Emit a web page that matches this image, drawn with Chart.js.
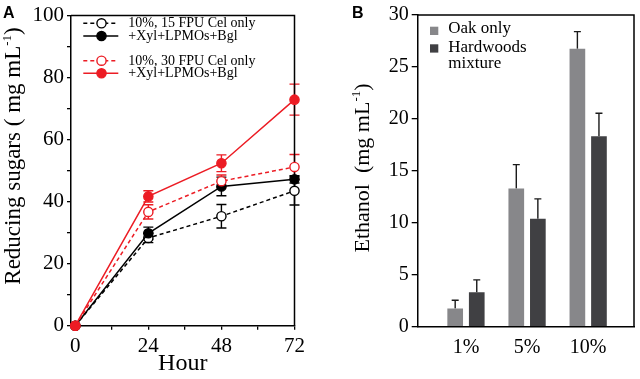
<!DOCTYPE html>
<html>
<head>
<meta charset="utf-8">
<script src="https://cdn.jsdelivr.net/npm/chart.js@4"></script>
<style>
html, body { margin: 0; padding: 0; background: #fff; }
#wrap { position: relative; width: 640px; height: 379px; }
#chartA { position: absolute; left: 0; top: 0; }
#chartB { position: absolute; left: 330px; top: 0; }
</style>
</head>
<body>
<div id="wrap">
  <canvas id="chartA" width="330" height="379"></canvas>
  <canvas id="chartB" width="310" height="379"></canvas>
</div>
<script>
// panel A - reducing sugars over time
const hours = [0, 24, 48, 72];
const cel15 = [0, 28.3, 35.3, 43.5];
const cel15Err = [0, 1.5, 3.8, 4.6];
const mix15 = [0, 29.8, 44.9, 47.2];
const mix15Err = [0, 2.0, 3.0, 1.2];
const cel30 = [0, 36.7, 46.6, 51.2];
const cel30Err = [0, 2.3, 2.0, 4.0];
const mix30 = [0, 41.7, 52.4, 72.9];
const mix30Err = [0, 1.8, 2.7, 5.0];

// panel B - ethanol
const loadings = ['1%', '5%', '10%'];
const oak = [1.74, 13.3, 26.75];
const oakErr = [0.8, 2.3, 1.65];
const hardwoods = [3.31, 10.4, 18.34];
const hardwoodsErr = [1.2, 1.9, 2.2];

const SERIF = '"Liberation Serif", "Times New Roman", serif';
const RED = '#ec1c24';

const errorBars = {
    id: 'errorBars',
    beforeDatasetsDraw(chart, args, opts) {
        const ctx = chart.ctx;
        const y = chart.scales.y;
        ctx.save();
        chart.data.datasets.forEach((ds, i) => {
            const meta = chart.getDatasetMeta(i);
            meta.data.forEach((el, j) => {
                const err = ds.errors[j];
                if (!err) return;
                const v = ds.data[j].y;
                const top = y.getPixelForValue(v + err);
                const bot = opts.upOnly ? el.y : y.getPixelForValue(v - err);
                ctx.strokeStyle = ds.errorColor;
                ctx.lineWidth = 1.4;
                ctx.setLineDash([]);
                ctx.beginPath();
                ctx.moveTo(el.x, top);
                ctx.lineTo(el.x, bot);
                ctx.moveTo(el.x - opts.cap, top);
                ctx.lineTo(el.x + opts.cap, top);
                if (!opts.upOnly) {
                    ctx.moveTo(el.x - opts.cap, bot);
                    ctx.lineTo(el.x + opts.cap, bot);
                }
                ctx.stroke();
            });
        });
        ctx.restore();
    }
};

// top and right side of the box
const frame = {
    id: 'frame',
    beforeDatasetsDraw(chart) {
        const { ctx, chartArea: a } = chart;
        ctx.save();
        ctx.strokeStyle = '#000';
        ctx.lineWidth = 1.5;
        ctx.beginPath();
        ctx.moveTo(a.left, a.top);
        ctx.lineTo(a.right, a.top);
        ctx.lineTo(a.right, a.bottom);
        ctx.stroke();
        ctx.restore();
    }
};

function drawRotTitle(ctx, cx, cy, size, main, sup, tail) {
    ctx.save();
    ctx.translate(cx, cy);
    ctx.rotate(-Math.PI / 2);
    ctx.fillStyle = '#000';
    ctx.textBaseline = 'alphabetic';
    const big = size + 'px ' + SERIF;
    const small = Math.round(size * 0.58) + 'px ' + SERIF;
    ctx.font = big;
    const w1 = ctx.measureText(main).width;
    const w3 = ctx.measureText(tail).width;
    ctx.font = small;
    const w2 = ctx.measureText(sup).width;
    let x = -(w1 + w2 + w3) / 2;
    const base = size * 0.25;
    ctx.font = big;
    ctx.fillText(main, x, base);
    x += w1;
    ctx.font = small;
    ctx.fillText(sup, x, base - size * 0.4);
    x += w2;
    ctx.font = big;
    ctx.fillText(tail, x, base);
    ctx.restore();
}

const decorations = {
    id: 'decorations',
    afterDraw(chart, args, opts) {
        const ctx = chart.ctx;
        drawRotTitle(ctx, opts.titleX, opts.titleY, opts.titleSize, opts.title, '-1', ')');
        ctx.save();
        ctx.fillStyle = '#000';
        ctx.font = 'bold 16px "Liberation Sans", Arial, sans-serif';
        ctx.textBaseline = 'alphabetic';
        ctx.fillText(opts.panel, opts.panelX, 18);
        ctx.restore();
    }
};

const legendA = {
    id: 'legendA',
    afterDraw(chart) {
        const ctx = chart.ctx;
        const rows = [23.3, 36, 60.7, 73.3];
        chart.data.datasets.forEach((ds, i) => {
            const y = rows[i];
            ctx.save();
            ctx.strokeStyle = ds.borderColor;
            ctx.lineWidth = ds.borderWidth;
            ctx.setLineDash(ds.borderDash);
            ctx.beginPath();
            ctx.moveTo(83.3, y);
            ctx.lineTo(118.3, y);
            ctx.stroke();
            ctx.setLineDash([]);
            ctx.fillStyle = ds.pointBackgroundColor;
            ctx.lineWidth = ds.pointBorderWidth;
            ctx.beginPath();
            ctx.arc(101.5, y, ds.pointRadius, 0, Math.PI * 2);
            ctx.fill();
            ctx.stroke();
            ctx.fillStyle = '#000';
            ctx.font = '14px ' + SERIF;
            ctx.textBaseline = 'middle';
            ctx.fillText(ds.label, 128.3, y + 0.5);
            ctx.restore();
        });
    }
};

const legendB = {
    id: 'legendB',
    afterDraw(chart) {
        const ctx = chart.ctx;
        const boxes = [26.7, 44.3];
        const baselines = [[33], [51.7, 68.3]];
        chart.data.datasets.forEach((ds, i) => {
            ctx.save();
            ctx.fillStyle = ds.backgroundColor;
            ctx.fillRect(100, boxes[i], 8.3, 8.3);
            ctx.fillStyle = '#000';
            ctx.font = '17px ' + SERIF;
            ctx.textBaseline = 'alphabetic';
            ds.legendLines.forEach((t, k) => ctx.fillText(t, 118.3, baselines[i][k]));
            ctx.restore();
        });
    }
};

function lineSet(label, values, errors, color, open, order) {
    return {
        label: label,
        order: order,
        data: hours.map((h, i) => ({ x: h, y: values[i] })),
        errors: errors,
        errorColor: color,
        borderColor: color,
        borderWidth: 1.5,
        borderDash: open ? [4, 3] : [],
        pointRadius: 4.6,
        pointBorderWidth: 1.4,
        pointBackgroundColor: open ? '#fff' : color,
        pointBorderColor: color,
        tension: 0,
        fill: false,
        clip: false
    };
}

new Chart(document.getElementById('chartA'), {
    type: 'line',
    data: {
        datasets: [
            lineSet('10%, 15 FPU Cel only', cel15, cel15Err, '#000', true, 4),
            lineSet('+Xyl+LPMOs+Bgl', mix15, mix15Err, '#000', false, 3),
            lineSet('10%, 30 FPU Cel only', cel30, cel30Err, RED, true, 2),
            lineSet('+Xyl+LPMOs+Bgl', mix30, mix30Err, RED, false, 1)
        ]
    },
    options: {
        responsive: false,
        animation: false,
        layout: { padding: { top: 8.5, right: 35.5, left: 0, bottom: 0 } },
        plugins: {
            legend: { display: false },
            tooltip: { enabled: false },
            errorBars: { cap: 5, upOnly: false },
            decorations: {
                title: 'Reducing sugars ( mg mL', titleX: 14, titleY: 156, titleSize: 23,
                panel: 'A', panelX: 3
            }
        },
        scales: {
            x: {
                type: 'linear', min: -1.4, max: 72,
                afterFit: s => { s.height = 53.3; },
                grid: { drawOnChartArea: false, drawTicks: true, tickLength: 4, color: '#000', lineWidth: 1.3 },
                border: { display: true, color: '#000', width: 1.5 },
                ticks: {
                    stepSize: 12, includeBounds: false, autoSkip: false, maxRotation: 0, padding: 4,
                    color: '#000', font: { family: SERIF, size: 21 },
                    callback: v => (v % 24 === 0 ? String(v) : '')
                },
                title: {
                    display: true, text: 'Hour', color: '#000',
                    font: { family: SERIF, size: 24 }, padding: { top: 0, bottom: 0.5 }
                }
            },
            y: {
                min: 0, max: 100,
                afterFit: s => { s.width = 71; },
                grid: { drawOnChartArea: false, drawTicks: true, tickLength: 4, color: '#000', lineWidth: 1.3 },
                border: { display: true, color: '#000', width: 1.5 },
                ticks: {
                    stepSize: 10, autoSkip: false, padding: 3,
                    color: '#000', font: { family: SERIF, size: 21 },
                    callback: v => (v % 20 === 0 ? String(v) : '')
                }
            }
        }
    },
    plugins: [errorBars, frame, legendA, decorations]
});

new Chart(document.getElementById('chartB'), {
    type: 'bar',
    data: {
        datasets: [
            {
                label: 'Oak only', legendLines: ['Oak only'],
                data: loadings.map((c, i) => ({ x: i + 1, y: oak[i] })),
                errors: oakErr, errorColor: '#1a1a1a',
                backgroundColor: '#87878a'
            },
            {
                label: 'Hardwoods mixture', legendLines: ['Hardwoods', 'mixture'],
                data: loadings.map((c, i) => ({ x: i + 1, y: hardwoods[i] })),
                errors: hardwoodsErr, errorColor: '#1a1a1a',
                backgroundColor: '#404043'
            }
        ]
    },
    options: {
        responsive: false,
        animation: false,
        datasets: { bar: { categoryPercentage: 0.706, barPercentage: 0.727 } },
        layout: { padding: { top: 10, right: 6, left: 0, bottom: 0 } },
        plugins: {
            legend: { display: false },
            tooltip: { enabled: false },
            errorBars: { cap: 3.5, upOnly: true },
            decorations: {
                title: 'Ethanol  (mg mL', titleX: 33, titleY: 168, titleSize: 22,
                panel: 'B', panelX: 22
            }
        },
        scales: {
            x: {
                type: 'linear', min: 0.21, max: 3.75, offset: false,
                afterFit: s => { s.height = 52.3; },
                grid: { drawOnChartArea: false, drawTicks: false, offset: false },
                border: { display: true, color: '#000', width: 1.5 },
                ticks: {
                    stepSize: 1, includeBounds: false, autoSkip: false, maxRotation: 0, padding: 9,
                    color: '#000', font: { family: SERIF, size: 20 },
                    callback: v => loadings[v - 1] || ''
                }
            },
            y: {
                min: 0, max: 30,
                afterFit: s => { s.width = 87.7; },
                grid: { drawOnChartArea: false, drawTicks: true, tickLength: 6, color: '#000', lineWidth: 1.3 },
                border: { display: true, color: '#000', width: 1.5 },
                ticks: {
                    stepSize: 5, autoSkip: false, padding: 3,
                    color: '#000', font: { family: SERIF, size: 20 }
                }
            }
        }
    },
    plugins: [errorBars, frame, legendB, decorations]
});
</script>
</body>
</html>
